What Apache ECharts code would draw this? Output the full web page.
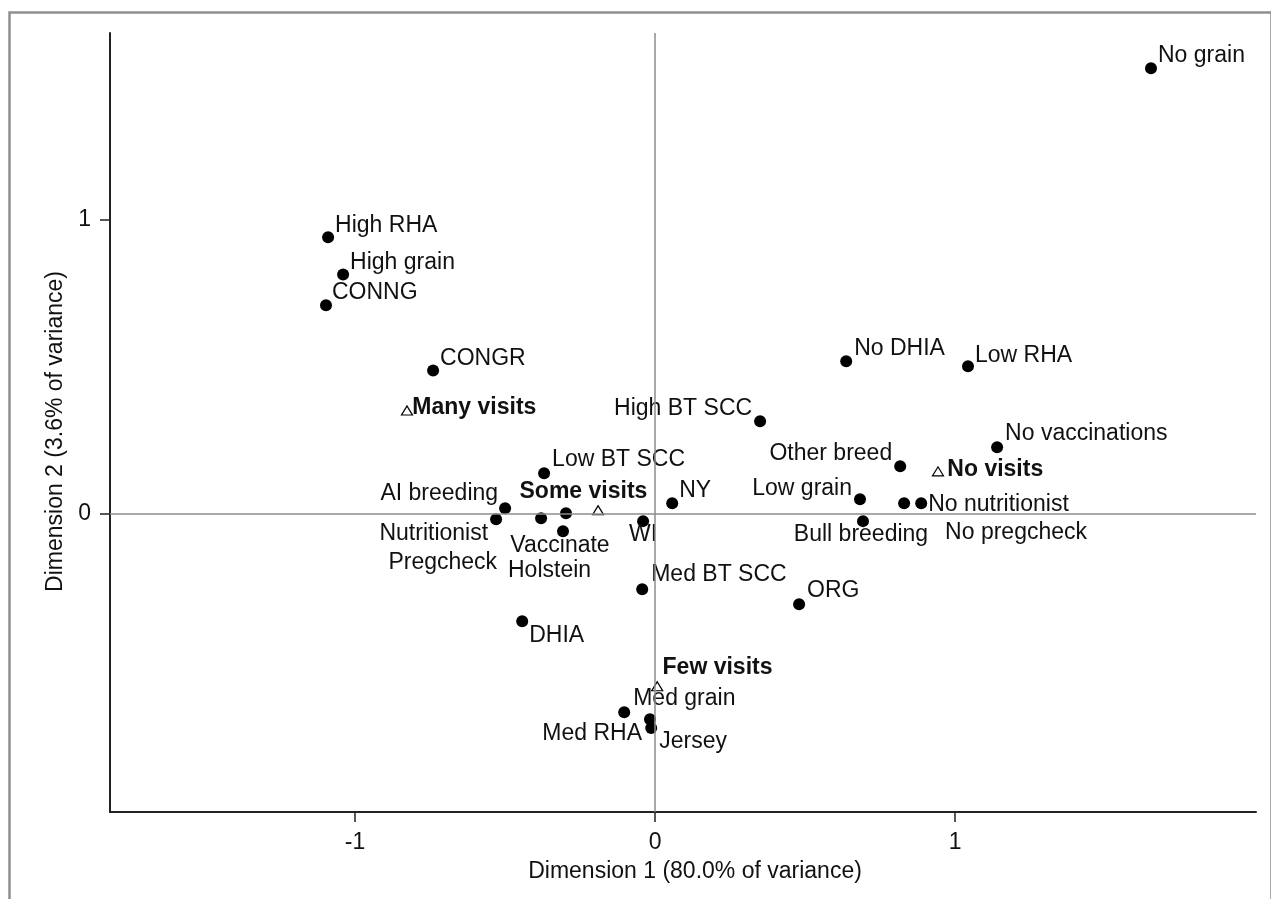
<!DOCTYPE html>
<html>
<head>
<meta charset="utf-8">
<script src="https://cdn.jsdelivr.net/npm/echarts@6/dist/echarts.min.js"></script>
<style>
html,body{margin:0;padding:0;background:#fff;}
#chart{width:1271px;height:899px;}
</style>
</head>
<body>
<div id="chart"></div>
<script>
// ---- Data ----
const dotNames = ['No grain','High RHA','High grain','CONNG','CONGR','No DHIA','Low RHA','High BT SCC',
  'No vaccinations','Other breed','Low BT SCC','NY','Low grain','No nutritionist','No pregcheck',
  'Bull breeding','AI breeding','Nutritionist','Pregcheck','Holstein','Vaccinate','WI','Med BT SCC',
  'ORG','DHIA','Med grain','Med RHA','Jersey'];
const dotX = [1.653,-1.090,-1.040,-1.097,-0.740,0.637,1.043,0.350,
  1.140,0.817,-0.370,0.057,0.683,0.887,0.830,
  0.693,-0.500,-0.530,-0.380,-0.297,-0.307,-0.040,-0.043,
  0.480,-0.443,-0.103,-0.017,-0.013];
const dotY = [1.513,0.939,0.813,0.708,0.487,0.518,0.501,0.314,
  0.226,0.161,0.138,0.036,0.049,0.036,0.036,
  -0.025,0.019,-0.019,-0.015,0.002,-0.059,-0.025,-0.256,
  -0.307,-0.365,-0.674,-0.698,-0.728];

const visitNames = ['Many visits','Some visits','No visits','Few visits'];
const visitX = [-0.827,-0.190,0.943,0.007];
const visitY = [0.351,0.012,0.144,-0.586];

const xTicks = [-1, 0, 1];
const yTicks = [0, 1];

// ---- Label placement (style only): [align, dx from centre, dy from centre] ----
const labelPlace = {
  'No grain':['left',7,-13],'High RHA':['left',7,-12],'High grain':['left',7,-12],'CONNG':['left',6,-13],
  'CONGR':['left',7,-12],'No DHIA':['left',8,-13],'Low RHA':['left',7,-11],'High BT SCC':['right',-8,-13],
  'No vaccinations':['left',8,-14],'Other breed':['right',-8,-13],'Low BT SCC':['left',8,-13],
  'NY':['left',7,-13],'Low grain':['right',-8,-11],'No nutritionist':['left',7,1],
  'No pregcheck':['left',41,29],'Bull breeding':['center',-2,14],'AI breeding':['right',-7,-15],
  'Nutritionist':['right',-8,14],'Pregcheck':['right',-44,44],'Holstein':['left',-58,57],
  'Vaccinate':['center',-3,15],'WI':['center',0,14],'Med BT SCC':['left',9,-14],'ORG':['left',8,-13],
  'DHIA':['left',7,14],'Med grain':['left',9,-14],'Med RHA':['right',-8,14],'Jersey':['left',8,14],
  'Many visits':['left',6,-2],'Some visits':['center',-14,-18],'No visits':['left',10,-1],
  'Few visits':['left',6,-18]
};

const FONT = '"Liberation Sans", Arial, Helvetica, sans-serif';
const TXT = '#111111';
const FS = 23;

function buildData(names, xs, ys, symW, symH, bold) {
  return names.map((n, i) => {
    const p = labelPlace[n];
    return {
      name: n,
      value: [xs[i], ys[i]],
      label: {
        show: true,
        formatter: n,
        position: [p[1] + symW / 2, p[2] + symH / 2],
        align: p[0],
        verticalAlign: 'middle',
        fontFamily: FONT,
        fontSize: FS,
        fontWeight: bold ? 'bold' : 'normal',
        color: TXT
      }
    };
  });
}

const chart = echarts.init(document.getElementById('chart'), null, {renderer: 'canvas'});
chart.setOption({
  backgroundColor: '#ffffff',
  animation: false,
  graphic: [{
    type: 'rect', left: 7, top: 10, silent: true, z: -10,
    shape: {width: 1262, height: 900},
    style: {fill: 'none', stroke: '#8f8f8f', lineWidth: 2.5}
  }],
  grid: {left: 110, right: 15, top: 33, bottom: 87, containLabel: false},
  xAxis: {
    type: 'value', min: -1.817, max: 2.003,
    name: 'Dimension 1 (80.0% of variance)', nameLocation: 'middle', nameGap: 48,
    nameTextStyle: {fontFamily: FONT, fontSize: FS, color: TXT, padding: [0, 0, 0, 24]},
    axisLine: {onZero: false, lineStyle: {color: '#222', width: 2}},
    axisTick: {show: true, customValues: xTicks, length: 10, lineStyle: {color: '#222', width: 1.5}},
    axisLabel: {customValues: xTicks, margin: 19, fontFamily: FONT, fontSize: FS, color: TXT},
    splitLine: {show: false}
  },
  yAxis: {
    type: 'value', min: -1.013, max: 1.633,
    name: 'Dimension 2 (3.6% of variance)', nameLocation: 'middle', nameGap: 39,
    nameTextStyle: {fontFamily: FONT, fontSize: FS, color: TXT, padding: [0, 18, 0, 0]},
    axisLine: {onZero: false, lineStyle: {color: '#222', width: 2}},
    axisTick: {show: true, customValues: yTicks, length: 10, lineStyle: {color: '#222', width: 1.5}},
    axisLabel: {customValues: yTicks, margin: 19, fontFamily: FONT, fontSize: FS, color: TXT},
    splitLine: {show: false}
  },
  series: [
    {
      type: 'scatter', name: 'categories',
      symbol: 'circle', symbolSize: 12,
      itemStyle: {color: '#000', opacity: 1},
      data: buildData(dotNames, dotX, dotY, 12, 12, false),
      markLine: {
        silent: true, symbol: 'none', animation: false,
        label: {show: false},
        lineStyle: {color: '#8c8c8c', width: 1.5, type: 'solid'},
        emphasis: {disabled: true},
        data: [{xAxis: 0}, {yAxis: 0}]
      },
      z: 3
    },
    {
      type: 'scatter', name: 'visits',
      symbol: 'triangle', symbolSize: [11, 9],
      itemStyle: {color: '#ffffff', borderColor: '#000', borderWidth: 1.2, opacity: 1},
      data: buildData(visitNames, visitX, visitY, 11, 9, true),
      z: 3
    }
  ]
});
</script>
</body>
</html>
